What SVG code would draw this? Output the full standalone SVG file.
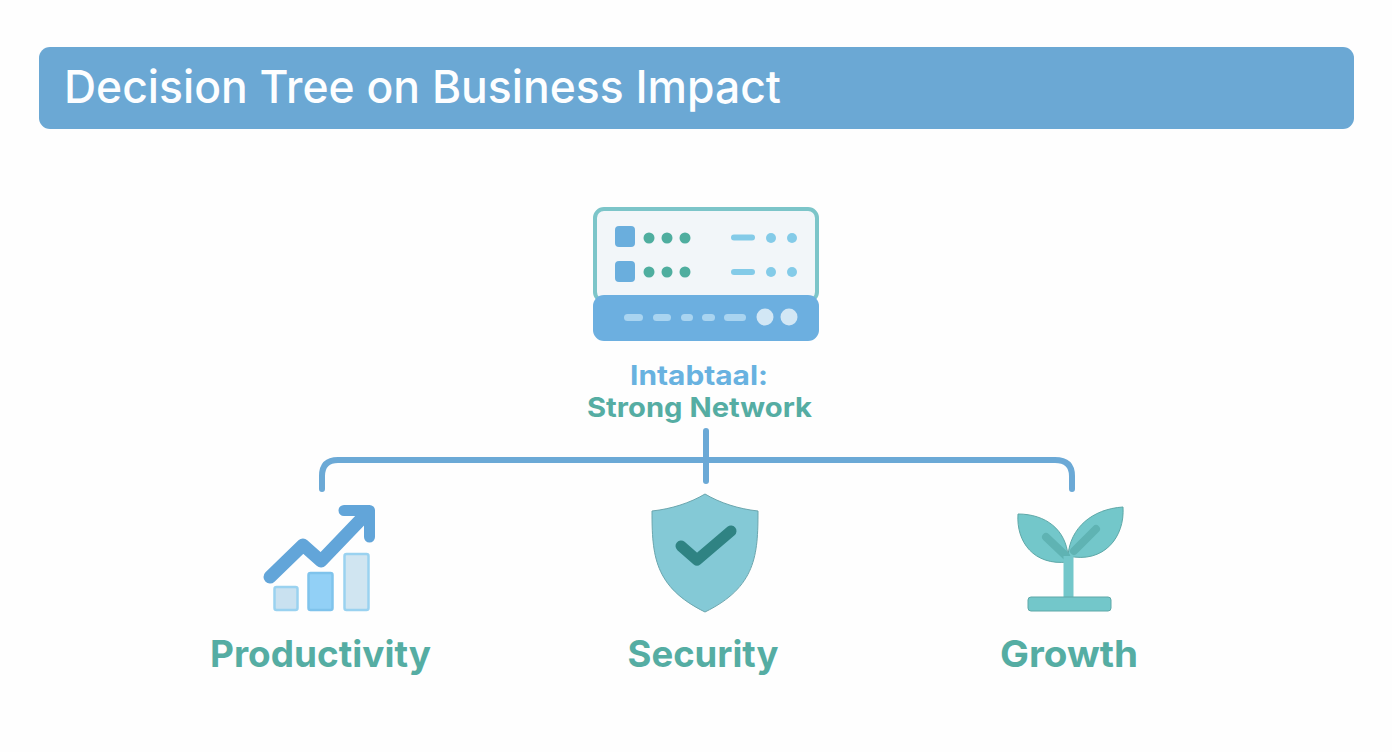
<svg xmlns="http://www.w3.org/2000/svg" width="1392" height="752" viewBox="0 0 1392 752">
<style>
.t{font-family:"Inter","Open Sans","Liberation Sans",sans-serif;font-weight:700;text-anchor:middle}
.lbl{font-size:37px;fill:#55ada3}
.sub{font-size:27px}
.c{fill:none;stroke:#6ba9d6;stroke-width:6;stroke-linecap:round}
.g{fill:#4fae9f}.b{fill:#84cbe8}.s{fill:#6aaedd}.p{fill:#b3daf0}
</style>
<rect width="1392" height="752" fill="#fefefe"/>
<g id="header">
<rect x="39" y="47" width="1315" height="82" rx="11" fill="#6ba8d4"/>
<text x="64" y="103" textLength="717" lengthAdjust="spacingAndGlyphs" style="font-family:'Inter','Open Sans','Liberation Sans',sans-serif;font-weight:500;font-size:45px" fill="#fdfeff">Decision Tree on Business Impact</text>
</g>
<g id="connectors">
<path class="c" d="M322 489V476Q322 460 338 460H1055Q1072 460 1072 476V489"/>
<path class="c" d="M706 431V481"/>
</g>
<g id="network">
<rect x="595" y="209" width="222" height="92" rx="9" fill="#f2f6f9" stroke="#7cc5c9" stroke-width="4"/>
<rect x="593" y="295" width="226" height="46" rx="11" fill="#6cafe0"/>
<rect x="615" y="226" width="20" height="21" rx="4" class="s"/>
<rect x="615" y="261" width="20" height="21" rx="4" class="s"/>
<g class="g"><circle cx="649" cy="238" r="5.500"/><circle cx="667" cy="238" r="5.500"/><circle cx="685" cy="238" r="5.500"/><circle cx="649" cy="272" r="5.500"/><circle cx="667" cy="272" r="5.500"/><circle cx="685" cy="272" r="5.500"/></g>
<g class="b"><rect x="731" y="234.500" width="24" height="6" rx="3"/><circle cx="771" cy="238" r="5"/><circle cx="792" cy="238" r="5"/><rect x="731" y="269" width="24" height="6" rx="3"/><circle cx="771" cy="272" r="5"/><circle cx="792" cy="272" r="5"/></g>
<g fill="#a9d4f0"><rect x="624" y="314" width="19" height="7" rx="3.500"/><rect x="653" y="314" width="18" height="7" rx="3.500"/><rect x="681" y="314" width="12" height="7" rx="3.500"/><rect x="702" y="314" width="13" height="7" rx="3.500"/><rect x="724" y="314" width="22" height="7" rx="3.500"/></g>
<circle cx="765" cy="317" r="8.500" fill="#d2e7f5"/><circle cx="789" cy="317" r="8.500" fill="#d2e7f5"/>
<text class="t sub" x="699" y="385" textLength="138" lengthAdjust="spacingAndGlyphs" fill="#68b2e0">Intabtaal:</text>
<text class="t sub" x="699.500" y="417" textLength="225" lengthAdjust="spacingAndGlyphs" fill="#55ada3">Strong Network</text>
</g>
<g id="productivity">
<path d="M270 577L303 545L321 561L368 512" fill="none" stroke="#62a5d9" stroke-width="13" stroke-linecap="round" stroke-linejoin="round"/>
<path d="M344 510.500H369.500V537" fill="none" stroke="#62a5d9" stroke-width="11" stroke-linecap="round" stroke-linejoin="round"/>
<rect x="274.500" y="587" width="23" height="23" rx="2" fill="#c9e1f0" stroke="#9ad2f0" stroke-width="2.500"/>
<rect x="308.500" y="573" width="24" height="37" rx="2" fill="#92d0f6" stroke="#7fc3ec" stroke-width="2.500"/>
<rect x="344.500" y="554" width="24" height="56" rx="2" fill="#d0e5f1" stroke="#9ad2f0" stroke-width="2.500"/>
<text class="t lbl" x="320.500" y="667" textLength="221" lengthAdjust="spacingAndGlyphs">Productivity</text>
</g>
<g id="security">
<path d="M705 494C690 503 671 509 652 511C652 555 654 587 705 612C756 587 758 555 758 511C739 509 720 503 705 494Z" fill="#84c9d6" stroke="#6ba6ae" stroke-width="1"/>
<path d="M681 546L697 560L731 531" fill="none" stroke="#2f8383" stroke-width="11" stroke-linecap="round" stroke-linejoin="round"/>
<text class="t lbl" x="703" y="667" textLength="151" lengthAdjust="spacingAndGlyphs">Security</text>
</g>
<g id="growth">
<path d="M1068 556C1066 530 1046 514 1018 514C1016 542 1034 566 1068 562Z" fill="#73c7ca" stroke="#5ea8a8" stroke-width="1"/>
<path d="M1068 556C1070 528 1092 509 1123 507C1125 537 1104 564 1068 556Z" fill="#73c7ca" stroke="#5ea8a8" stroke-width="1"/>
<path d="M1046 537L1066 556M1096 529L1074 551" fill="none" stroke="#5fb3b3" stroke-width="8" stroke-linecap="round"/>
<rect x="1063.500" y="556" width="10" height="44" fill="#73c7ca"/>
<rect x="1028" y="597" width="83" height="14" rx="3" fill="#73c7ca" stroke="#5ea8a8" stroke-width="1"/>
<text class="t lbl" x="1069" y="667" textLength="138" lengthAdjust="spacingAndGlyphs">Growth</text>
</g>
</svg>
